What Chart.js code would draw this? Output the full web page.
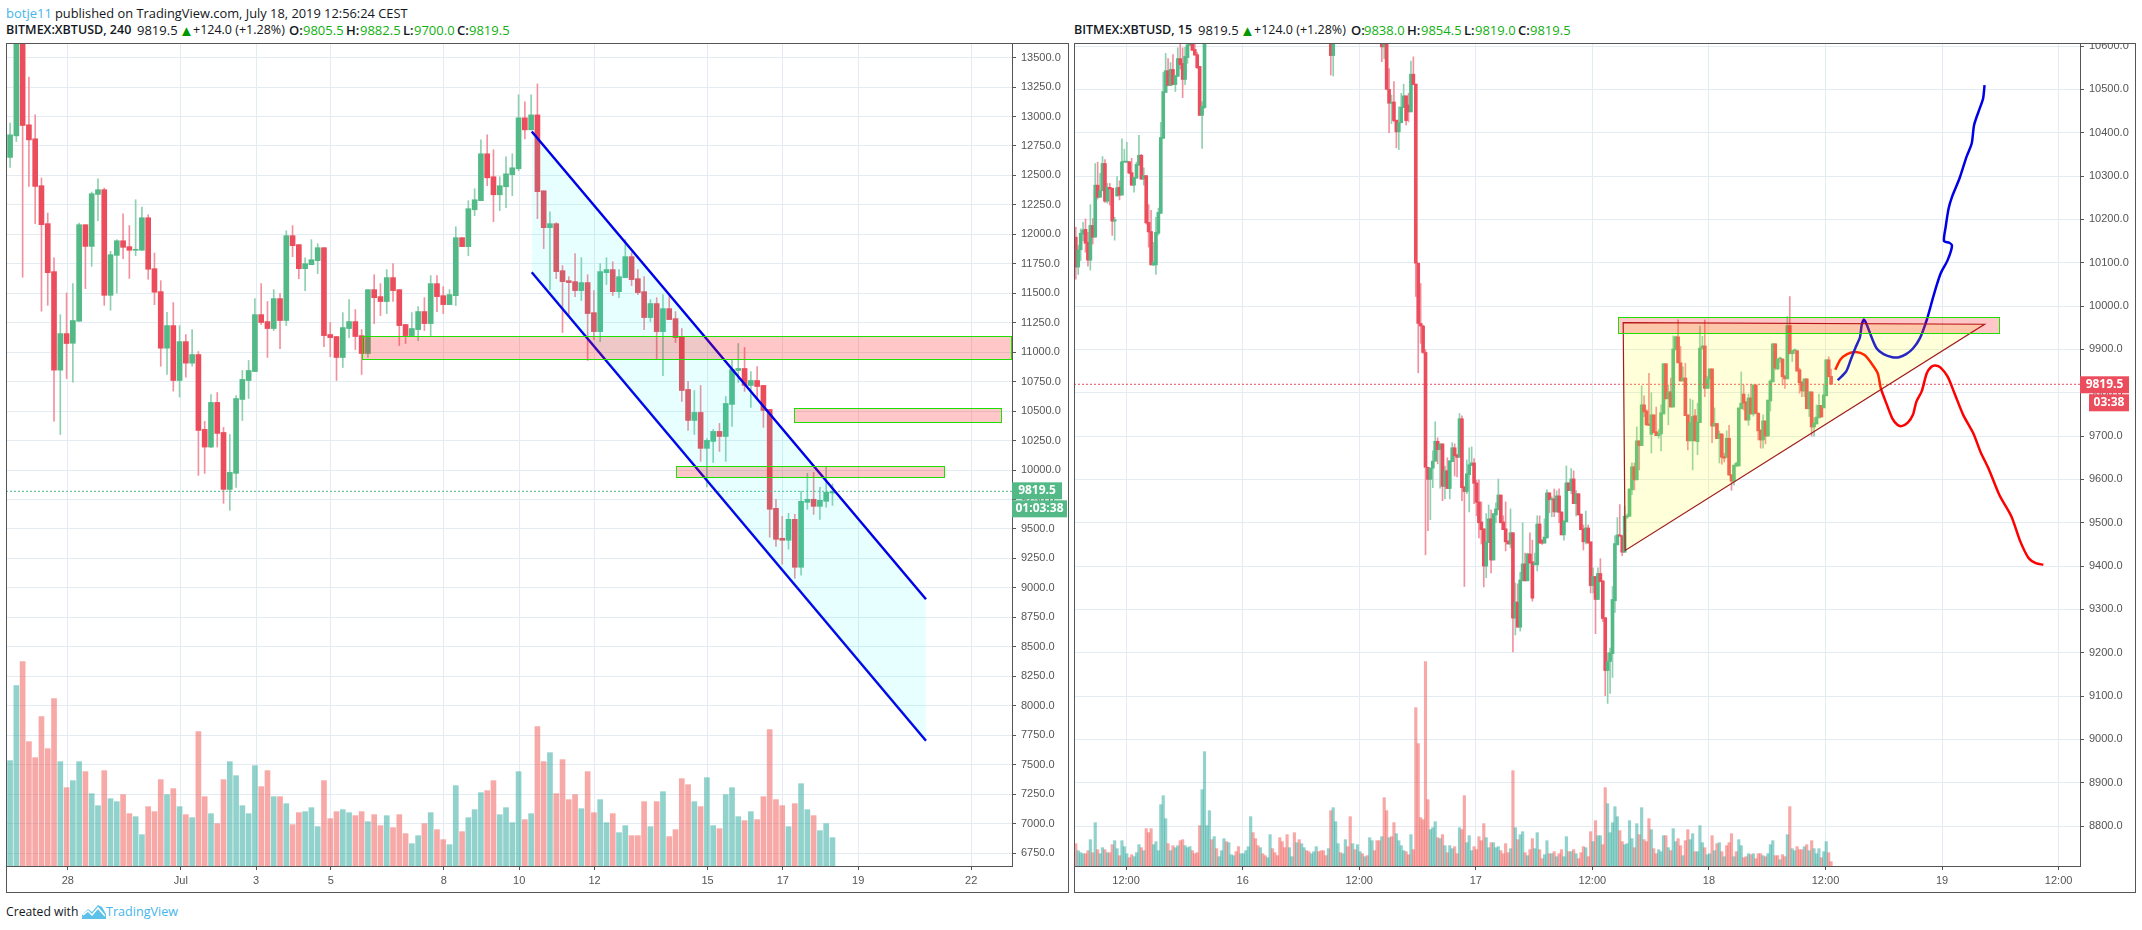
<!DOCTYPE html>
<html>
<head>
<meta charset="utf-8">
<title>BITMEX:XBTUSD</title>
<script src="https://cdn.jsdelivr.net/npm/chart.js@4/dist/chart.umd.min.js"></script>
<style>
    html, body { margin: 0; padding: 0; background: #fff; width: 2142px; height: 930px; overflow: hidden; }
    body { position: relative; font-family: "Open Sans", "Noto Sans", sans-serif; color: #131722; }
    canvas { position: absolute; top: 43px; }
    #leftChart { left: 6px; }
    #rightChart { left: 1074px; }
    .frame { position: absolute; top: 43px; height: 850px; border: 1px solid #555; box-sizing: border-box; pointer-events: none; }
    .line, .line span, .line b { white-space: nowrap; }
    .line { position: absolute; left: 0; width: 0; font-size: 13px; line-height: 16px; }
    .line span, .line b { position: absolute; top: 0; }
    .line b { font-weight: 600; }
    .line .val { color: #11b011; }
    .line .up { color: #009900; font-size: 15px; }
    .line .author, .line .brand { color: #45b5ea; }
</style>
</head>
<body>
<div class="line" style="top:5px"><span class="author" style="left:6px">botje11</span><span style="left:55px;font-size:12.85px">published on TradingView.com, July 18, 2019 12:56:24 CEST</span></div>
<div class="line" style="top:22px">
    <b style="left:6px;font-size:12.5px">BITMEX:XBTUSD, 240</b><span style="left:137px">9819.5</span><span class="up" style="left:179px">▲</span><span style="left:193px;font-size:12.5px">+124.0 (+1.28%)</span>
    <b style="left:289px">O:</b><span class="val" style="left:303px">9805.5</span><b style="left:346px">H:</b><span class="val" style="left:360px">9882.5</span><b style="left:403px">L:</b><span class="val" style="left:414px">9700.0</span><b style="left:457px">C:</b><span class="val" style="left:469px">9819.5</span>
</div>
<div class="line" style="top:22px">
    <b style="left:1074px;font-size:12.5px">BITMEX:XBTUSD, 15</b><span style="left:1198px">9819.5</span><span class="up" style="left:1240px">▲</span><span style="left:1254px;font-size:12.5px">+124.0 (+1.28%)</span>
    <b style="left:1351px">O:</b><span class="val" style="left:1364px">9838.0</span><b style="left:1407px">H:</b><span class="val" style="left:1421px">9854.5</span><b style="left:1464px">L:</b><span class="val" style="left:1475px">9819.0</span><b style="left:1518px">C:</b><span class="val" style="left:1530px">9819.5</span>
</div>
<canvas id="leftChart" width="1062" height="850"></canvas>
<canvas id="rightChart" width="1062" height="850"></canvas>
<div class="frame" style="left:6px;width:1063px"></div>
<div class="frame" style="left:1074px;width:1062px"></div>
<div class="line" style="top:904px"><span style="left:6px;font-size:12.2px">Created with</span>
    <svg width="24" height="16" viewBox="0 0 24 16" style="position:absolute;left:82px;top:0"><path d="M0 15 L0 11 L6 5 L10 8 L16 1 L20 3 L24 10 L24 15 Z" fill="#5cc1e8"/><path d="M1 11 L6 7 L10 11 L16 4 L23 12" fill="none" stroke="#fff" stroke-width="1.5"/></svg>
    <span class="brand" style="left:106px;font-size:12.6px">TradingView</span></div>

<script>
// Graphique de gauche : bougies 4 h, prix.
var leftOpens = [12653,12836,13880,12930,12811,12413,12091,11684,10848,11158,
    11076,11263,12082,11898,12339,12379,11483,11822,11946,11896,
    11865,11865,12141,11709,11514,11034,11226,10760,11090,10907,
    10980,10345,10195,10574,10319,9836,9972,10599,10760,10836,
    11319,11260,11201,11455,11269,11989,11913,11709,11743,11777,
    11887,11150,11133,10955,11201,11260,11141,10989,11531,11472,
    11430,11633,11531,11235,11141,11192,11345,11243,11582,11480,
    11404,11480,11972,11896,12209,12286,12684,12489,12336,12404,
    12506,12557,12989,12887,13014,12370,12057,12091,11692,11607,
    11599,11523,11591,11336,11175,11675,11701,11514,11633,11811,
    11624,11514,11294,11413,11175,11370,11285,11133,10684,10421,
    10489,10184,10243,10328,10285,10557,10845,10862,10718,10760,
    10718,10514,9675,9421,9404,9582,9175,9726,9752,9692,
    9735,9805.5];
var leftHighs = [12944,14000,13950,13334,13014,12478,12181,11800,11319,11503,
    11582,12096,12082,12359,12472,12393,11856,11955,12175,12074,
    12294,12232,12167,11842,11607,11339,11421,11226,11150,11192,
    11006,10413,10641,10658,10362,10302,10633,10845,10930,11455,
    11582,11430,11531,11497,12031,12074,11913,11802,11955,11921,
    11887,11252,11133,11336,11446,11362,11192,11531,11658,11582,
    11701,11752,11531,11235,11336,11387,11463,11650,11650,11557,
    11531,12065,11972,12286,12387,12802,12845,12718,12489,12658,
    12684,13184,13125,13184,13277,12370,12192,12099,11735,11641,
    11836,11802,11658,11523,11752,11802,11768,11701,11955,11845,
    11701,11641,11446,11463,11489,11472,11345,11201,10752,10675,
    10718,10268,10345,10396,10624,10938,11074,11040,10836,10879,
    10718,10514,9752,9607,9633,9624,9819,9972,9980,9853,
    10031,9882.5];
var leftLows = [12568,12788,11636,12407,12091,11348,11398,10415,10302,10777,
    10746,11263,11540,11729,12116,11398,11356,11503,11794,11627,
    11819,11865,11619,11404,10881,10811,10670,10619,10788,10881,
    9955,9972,10189,10195,9718,9658,9853,10421,10607,10836,
    11235,10955,11184,11031,11226,11811,11624,11523,11743,11667,
    11048,10963,10760,10870,11124,11023,10811,10955,11243,11311,
    11328,11430,11057,11074,11141,11099,11184,11141,11345,11328,
    11404,11396,11896,11819,12158,12286,12413,12108,12201,12226,
    12328,12540,12811,12887,12133,11879,11531,11624,11167,11302,
    11472,11438,10930,11107,11090,11574,11480,11463,11633,11565,
    11489,11192,11260,10946,10802,11277,11082,10582,10336,10302,
    10074,9856,10065,10158,10074,10370,10743,10667,10531,10599,
    10362,9430,9353,9201,9328,9082,9107,9667,9624,9582,
    9684,9700];
var leftCloses = [12845,13880,12924,12802,12407,12082,11675,10848,11158,11074,
    11269,12082,11898,12345,12379,11483,11828,11946,11890,11865,
    11870,12141,11704,11509,11034,11226,10760,11090,10907,10980,
    10336,10195,10574,10311,9836,9980,10607,10769,10845,11319,
    11252,11201,11455,11269,11989,11904,11709,11752,11785,11887,
    11141,11124,10955,11209,11260,11133,10989,11531,11463,11430,
    11633,11523,11226,11141,11201,11345,11243,11582,11472,11404,
    11489,11972,11896,12218,12294,12684,12480,12336,12413,12514,
    12565,12989,12887,13014,12362,12057,12091,11684,11599,11591,
    11523,11591,11328,11175,11684,11701,11514,11641,11811,11616,
    11506,11294,11413,11175,11370,11277,11124,10675,10421,10489,
    10184,10252,10328,10285,10565,10853,10862,10718,10760,10709,
    10506,9667,9412,9404,9582,9175,9735,9752,9692,9743,
    9811,9819.5];
// Volumes en unités relatives (pas d'échelle sur l'image).
var leftVolumes = [316,541,613,373,325,448,352,502,313,235,
    256,313,283,217,181,286,202,193,214,157,
    148,94,178,163,259,214,232,178,154,145,
    403,208,157,127,259,313,271,181,157,301,
    238,286,208,208,187,124,160,163,175,118,
    256,142,163,169,160,151,163,133,154,121,
    151,115,154,97,67,91,127,160,109,79,
    64,241,103,145,169,220,226,256,154,175,
    130,283,139,157,418,313,340,217,319,199,
    214,172,283,160,199,130,157,100,121,91,
    91,193,118,193,223,88,109,262,244,193,
    178,265,121,112,214,235,148,136,163,139,
    208,409,199,181,118,187,247,169,151,106,
    127,85];
var leftPriceTicks = [6750,7000,7250,7500,7750,8000,8250,8500,8750,9000,9250,9500,9750,10000,10250,10500,10750,11000,11250,11500,11750,12000,12250,12500,12750,13000,13250,13500];
var leftTimeTicks = [9.2,27.2,39.2,51.1,69.1,81.1,93.1,111.1,123.1,135.1,153.1];
var leftTimeLabels = ['28','Jul','3','5','8','10','12','15','17','19','22'];

// Dessins du graphique de gauche : canal bleu et zones.
var channelBars = [83.1,145.9];
var channelUpper = [12873,8904];
var channelLower = [11678,7703];
var leftZoneStart = [56.1,124.9,106.0];
var leftZoneEnd = [159.4,157.9,148.8];
var leftZoneTop = [11139,10528,10037];
var leftZoneBottom = [10944,10410,9944];

// Graphique de droite : bougies 15 min ; null = bougie hors du cadre.
function hidden(count) { return new Array(count).fill(null); }

var rightOpens = [10159,10090,10130,10166,10177,10147,10106,10186,10159,10279,
    10251,10266,10329,10242,10274,10272,10196,10254,10274,10256,
    10332,10332,10333,10308,10279,10295,10325,10348,10293,10301,
    10193,10172,10095,10095,10168,10214,10387,10493,10543,10509,
    10546,10511,10530,10571,10560,10523,10573,10602,10620,10592,
    10580,10553,10440,10458].concat(hidden(51), [10660,10578], hidden(19), [
    10640,10598,10640,10500,10468,10471,10429,10402,10423,10458,
    10485,10464,10448,10535,10512,10099,9960,9954,9893,9628,
    9600,9626,9642,9688,9669,9682,9584,9620,9579,9641,
    9673,9657,9651,9740,9583,9572,9611,9632,9638,9592,
    9548,9502,9486,9400,9454,9509,9414,9518,9530,9564,
    9502,9486,9458,9451,9477,9280,9317,9259,9366,9405,
    9366,9428,9410,9403,9403,9497,9460,9453,9465,9569,
    9553,9555,9525,9562,9525,9472,9502,9592,9574,9601,
    9544,9567,9520,9486,9456,9488,9456,9355,9376,9323,
    9383,9366,9281,9159,9180,9198,9320,9449,9472,9470,
    9432,9513,9515,9576,9629,9599,9689,9678,9772,9758,
    9728,9704,9749,9710,9701,9705,9751,9867,9786,9802,
    9767,9899,9929,9869,9827,9834,9749,9689,9689,9747,
    9687,9731,9903,9908,9810,9832,9855,9723,9729,9694,
    9705,9653,9651,9695,9611,9596,9631,9631,9763,9797,
    9779,9737,9788,9751,9818,9753,9714,9691,9735,9700,
    9781,9825,9913,9855,9878,9878,9839,9832,9955,9890,
    9897,9897,9853,9825,9804,9832,9763,9802,9721,9728,
    9742,9771,9765,9793,9876,9838]);
var rightHighs = [10182,10140,10178,10193,10201,10170,10234,10202,10329,10332,
    10306,10345,10338,10283,10283,10272,10205,10299,10289,10386,
    10362,10378,10333,10341,10297,10332,10394,10350,10319,10301,
    10234,10221,10147,10205,10226,10424,10539,10583,10571,10562,
    10580,10532,10596,10606,10596,10597,10616,10640,10640,10615,
    10585,10553,10472,10690].concat(hidden(51), [10700,10700], hidden(19), [
    10680,10680,10680,10548,10487,10518,10429,10460,10491,10512,
    10485,10491,10565,10575,10512,10099,10052,9956,9900,9628,
    9626,9666,9733,9696,9682,9682,9631,9650,9643,9685,
    9682,9657,9752,9747,9583,9645,9673,9675,9648,9599,
    9599,9548,9486,9521,9541,9530,9521,9546,9601,9564,
    9516,9548,9458,9532,9477,9361,9359,9386,9500,9430,
    9430,9477,9460,9430,9516,9516,9460,9509,9576,9569,
    9560,9578,9574,9578,9525,9504,9631,9592,9625,9620,
    9574,9567,9520,9495,9527,9495,9456,9396,9376,9396,
    9417,9366,9281,9200,9211,9353,9470,9512,9542,9470,
    9538,9520,9578,9638,9638,9721,9689,9816,9793,9761,
    9845,9800,9749,9767,9715,9772,9867,9867,9818,9834,
    9931,9931,9968,9907,9860,9868,9749,9786,9783,9761,
    9776,9954,9930,9968,9838,9855,9855,9765,9729,9712,
    9705,9660,9712,9725,9611,9633,9640,9765,9848,9818,
    9779,9797,9819,9818,9818,9753,9714,9749,9735,9783,
    9830,9913,9913,9878,9882,9878,9839,9976,10022,9897,
    9901,9897,9857,9825,9832,9832,9802,9802,9742,9772,
    9797,9771,9818,9876,9883,9854.5]);
var rightLows = [10062,10073,10105,10151,10124,10092,10083,10143,10159,10247,
    10251,10266,10239,10237,10233,10163,10152,10254,10245,10256,
    10332,10331,10305,10278,10263,10295,10325,10292,10279,10189,
    10136,10095,10093,10073,10164,10214,10387,10493,10509,10508,
    10511,10495,10530,10547,10481,10511,10560,10602,10590,10579,
    10548,10440,10364,10456].concat(hidden(51), [10533,10531], hidden(19), [
    10564,10571,10500,10400,10421,10425,10365,10361,10423,10458,
    10418,10425,10448,10511,10022,9846,9914,9891,9426,9482,
    9507,9581,9642,9636,9580,9551,9555,9579,9555,9641,
    9608,9606,9651,9551,9353,9567,9525,9632,9544,9516,
    9465,9451,9352,9373,9454,9384,9414,9500,9530,9500,
    9484,9435,9451,9442,9202,9241,9259,9250,9366,9366,
    9366,9407,9319,9403,9389,9453,9450,9453,9465,9523,
    9514,9514,9525,9500,9472,9460,9502,9574,9567,9544,
    9516,9518,9484,9437,9451,9453,9338,9338,9244,9323,
    9364,9272,9101,9083,9106,9143,9293,9449,9469,9424,
    9432,9510,9515,9565,9576,9599,9622,9678,9745,9724,
    9724,9661,9708,9701,9695,9666,9751,9786,9726,9767,
    9767,9899,9869,9827,9827,9747,9668,9689,9622,9689,
    9657,9731,9900,9791,9810,9810,9685,9723,9694,9638,
    9635,9640,9651,9610,9575,9587,9629,9631,9763,9760,
    9737,9725,9751,9746,9751,9691,9672,9672,9682,9700,
    9758,9825,9853,9853,9870,9818,9810,9832,9890,9872,
    9890,9850,9799,9791,9791,9763,9745,9700,9700,9728,
    9742,9744,9765,9793,9837,9819]);
var rightCloses = [10090,10130,10168,10176,10145,10106,10186,10159,10279,10251,
    10266,10329,10242,10274,10270,10196,10199,10273,10256,10333,
    10334,10334,10307,10279,10297,10327,10348,10293,10301,10192,
    10171,10095,10101,10170,10216,10389,10495,10543,10509,10546,
    10511,10532,10571,10557,10523,10576,10603,10620,10590,10579,
    10550,10440,10461,10660].concat(hidden(51), [10578,10660], hidden(19), [
    10598,10640,10500,10468,10469,10428,10402,10423,10459,10485,
    10428,10448,10535,10511,10099,9960,9954,9893,9628,9600,
    9626,9642,9688,9669,9682,9584,9620,9579,9643,9673,
    9655,9651,9740,9581,9572,9613,9634,9638,9591,9547,
    9500,9484,9400,9456,9509,9414,9521,9532,9564,9500,
    9484,9456,9451,9477,9280,9317,9259,9368,9405,9366,
    9428,9407,9326,9407,9497,9453,9453,9467,9569,9553,
    9555,9525,9562,9524,9472,9504,9592,9574,9601,9544,
    9567,9518,9484,9456,9488,9453,9355,9376,9323,9383,
    9364,9279,9159,9180,9200,9323,9452,9472,9469,9432,
    9515,9516,9578,9629,9599,9689,9678,9772,9756,9726,
    9725,9749,9708,9701,9705,9754,9867,9786,9802,9767,
    9901,9929,9869,9827,9834,9747,9689,9731,9745,9689,
    9733,9903,9908,9810,9832,9855,9723,9729,9694,9705,
    9651,9649,9695,9610,9596,9633,9637,9765,9776,9776,
    9737,9788,9751,9818,9753,9712,9691,9735,9700,9783,
    9827,9913,9857,9878,9880,9837,9832,9955,9890,9897,
    9899,9850,9823,9804,9832,9763,9802,9721,9730,9744,
    9771,9744,9795,9876,9837,9819.5]);
var rightVolumes = [67,46,40,37,37,46,79,40,130,49,
    37,55,49,40,40,64,76,52,31,76,
    58,37,25,34,28,40,64,55,46,112,
    100,112,64,73,46,184,211,142,67,46,
    61,55,61,76,79,61,55,58,46,37,
    40,121,229,343,121,166,79,88,52,28,
    46,82,73,70,34,31,43,58,37,37,
    46,58,148,100,82,61,55,37,31,25,
    94,52,40,31,85,73,55,94,55,28,
    100,70,79,67,55,46,43,37,43,58,
    43,46,46,31,52,166,175,133,67,40,
    37,79,58,148,67,49,64,43,37,28,
    31,85,76,46,76,76,88,205,166,85,
    88,130,97,76,61,46,43,34,94,49,
    475,367,145,139,613,199,109,115,133,85,
    82,94,61,40,61,52,58,37,115,109,
    211,70,91,46,58,49,88,76,127,85,
    55,70,70,55,58,46,37,67,40,52,
    286,115,79,94,103,40,31,49,82,52,
    100,49,22,34,76,37,37,43,28,37,
    49,28,88,43,43,49,37,22,40,58,
    55,28,103,73,136,91,91,64,235,187,
    100,130,178,148,106,73,64,67,136,82,
    55,127,94,175,79,73,142,109,52,37,
    49,43,91,91,55,46,112,73,82,61,
    31,76,109,79,97,43,43,121,70,55,
    34,37,91,46,67,70,43,28,61,70,
    97,28,43,79,61,25,28,37,34,37,
    22,37,37,31,28,37,64,76,31,31,
    19,34,28,94,178,52,46,58,49,49,
    58,64,46,76,52,37,52,25,43,73,40,13];
// Couleur de chaque volume : G = hausse, R = baisse.
var rightVolumeSides = ('RGGGRRGRGR GGRGRRGGRG GGRRGGGRGR RRGGGGGGRG RGGRRGGGRR ' +
    'RRGGGGRGRG GGRGGGRRGG GGGRRRGRRG GRRRRRRRGG RGRGGRRGGG ' +
    'RRRRGRGGGR GGRRGRGGRG RGGRRRGRRG RRGGGGRRGR RRRRRRGGGR ' +
    'GRGRGGRRGR RGGGRRRRRG GRGGGRRRRG RGRGGRGRRG GRRGGRGRGR ' +
    'RGGRGRGRRR GRRGRGGRRG GGGGRRGGGG RGRGRRRGRR GGGRGRGGRR ' +
    'GRRGGRGGGR GGRGRGRGRR RGRGGRRGRG RRRGRGGGRR GRRGRGGRRR ' +
    'GRGRGGGRGGRR').replace(/ /g, '').split('');
var rightPriceTicks = [8800,8900,9000,9100,9200,9300,9400,9500,9600,9700,9800,9900,10000,10100,10200,10300,10400,10500,10600];
var rightTimeTicks = [20.7,68.7,116.7,164.7,212.7,260.7,308.7,356.7,404.7];
var rightTimeLabels = ['12:00','16','12:00','17','12:00','18','12:00','19','12:00'];

// Dessins du graphique de droite : zone, triangle et deux tracés à main levée.
var rightZoneStart = [223.3];
var rightZoneEnd = [380.3];
var rightZoneTop = [9974];
var rightZoneBottom = [9939];
var triangleBars = [225.4,374.2,226.2];
var trianglePrices = [9962,9958,9436];
var blueBars = [313.7,317.2,319.1,321.2,322.9,323.6,324.5,325.8,327.6,329.8,332.6,336.2,339.0,341.9,344.7,347.6,350.4,353.3,356.1,359.0,360.8,359.7,357.5,358.2,359.4,360.8,363.9,366.8,368.9,369.9,372.2,373.6,374.2];
var bluePrices = [9829,9849,9876,9906,9928,9956,9969,9956,9929,9902,9889,9882,9882,9889,9902,9926,9968,10026,10075,10106,10139,10146,10150,10183,10225,10252,10295,10345,10375,10418,10456,10479,10510];
var redBars = [312.7,314.8,317.6,321.2,324.8,327.6,330.2,331.5,334.0,336.2,338.3,340.0,342.6,344.7,346.1,348.3,350.4,352.3,354.0,356.1,359.0,361.8,365.4,369.6,372.5,376.0,380.3,385.3,388.9,392.4,395.3,398.4];
var redPrices = [9853,9876,9889,9894,9887,9868,9845,9810,9772,9741,9726,9723,9731,9749,9779,9803,9845,9860,9863,9858,9837,9799,9749,9706,9664,9623,9564,9514,9457,9418,9407,9403];

var lastPrice = 9819.5;
var tickFont = { family: '"Liberation Sans", sans-serif', size: 11 };

// Associe deux listes en points {x, y}.
function toPoints(bars, prices) {
    return bars.map(function (bar, i) { return { x: bar, y: prices[i] }; });
}

// Trait simple (canal, tracés, dernier prix).
function lineDataset(bars, prices, color, width, extra) {
    return Object.assign({
        type: 'line',
        data: toPoints(bars, prices),
        borderColor: color,
        borderWidth: width,
        pointRadius: 0,
        fill: false,
        order: 0
    }, extra || {});
}

// Construit les jeux de données volumes, mèches et corps.
function candleDatasets(opens, highs, lows, closes, volumes, sides, look) {
    var volumeData = [], volumeColors = [];
    var wickData = [], wickColors = [];
    var bodyData = [], bodyColors = [];

    volumes.forEach(function (volume, i) {
        var rising = sides ? sides[i] === 'G' : closes[i] >= opens[i];
        volumeData.push({ x: i, y: volume });
        volumeColors.push(rising ? 'rgba(38,166,154,0.5)' : 'rgba(239,83,80,0.5)');

        if (opens[i] === null) {
            return;
        }
        wickData.push({ x: i, y: [lows[i], highs[i]] });
        wickColors.push(closes[i] >= opens[i] ? '#8fd0b0' : '#f2919e');
        bodyData.push({ x: i, y: [Math.min(opens[i], closes[i]), Math.max(opens[i], closes[i])] });
        bodyColors.push(closes[i] >= opens[i] ? '#53b987' : '#eb4d5c');
    });

    return [
        { data: volumeData, yAxisID: 'yVolume', backgroundColor: volumeColors, barThickness: look.volumeWidth, grouped: false, order: 5 },
        { data: wickData, backgroundColor: wickColors, barThickness: 1, grouped: false, order: 4 },
        { data: bodyData, backgroundColor: bodyColors, barThickness: look.bodyWidth, grouped: false, minBarLength: 1, order: 3 }
    ];
}

// Plugin : zones, triangle et étiquettes de prix, placés via les échelles.
function overlayPlugin(zones, triangle, tags) {
    return {
        id: 'overlay',
        afterDatasetsDraw: function (chart) {
            var ctx = chart.ctx;
            var x = chart.scales.x;
            var y = chart.scales.y;
            var area = chart.chartArea;

            ctx.save();
            ctx.beginPath();
            ctx.rect(area.left, area.top, area.right - area.left, area.bottom - area.top);
            ctx.clip();

            if (triangle) {
                ctx.beginPath();
                triangle.bars.forEach(function (bar, i) {
                    ctx.lineTo(x.getPixelForValue(bar), y.getPixelForValue(triangle.prices[i]));
                });
                ctx.closePath();
                ctx.fillStyle = 'rgba(255,255,0,0.15)';
                ctx.fill();
                ctx.strokeStyle = '#a11d1d';
                ctx.lineWidth = 1.2;
                ctx.stroke();
            }

            zones.start.forEach(function (start, i) {
                var left = Math.round(x.getPixelForValue(start)) + 0.5;
                var right = Math.round(x.getPixelForValue(zones.end[i])) + 0.5;
                var top = Math.round(y.getPixelForValue(zones.top[i])) + 0.5;
                var bottom = Math.round(y.getPixelForValue(zones.bottom[i])) + 0.5;
                ctx.fillStyle = 'rgba(255,0,0,0.22)';
                ctx.fillRect(left, top, right - left, bottom - top);
                ctx.strokeStyle = '#1ee000';
                ctx.lineWidth = 1;
                ctx.strokeRect(left, top, right - left, bottom - top);
            });
            ctx.restore();
        },
        afterDraw: function (chart) {
            var ctx = chart.ctx;
            var center = chart.scales.y.getPixelForValue(lastPrice);
            var right = chart.chartArea.right;

            ctx.save();
            ctx.textAlign = 'center';
            ctx.textBaseline = 'middle';
            tags.forEach(function (tag) {
                ctx.fillStyle = tag.color;
                ctx.fillRect(right + tag.left, center + tag.top, tag.width, tag.height);
                ctx.fillStyle = '#fff';
                ctx.font = 'bold 12px "Open Sans", sans-serif';
                ctx.fillText(tag.text, right + tag.left + tag.width / 2, center + tag.top + tag.height / 2);
            });
            ctx.restore();
        }
    };
}

// Crée un panneau complet.
function drawPanel(canvasId, panel) {
    new Chart(document.getElementById(canvasId), {
        type: 'bar',
        data: { datasets: panel.datasets },
        plugins: [overlayPlugin(panel.zones, panel.triangle, panel.tags)],
        options: {
            responsive: false,
            animation: false,
            layout: { padding: 0, autoPadding: false },
            plugins: { legend: { display: false }, tooltip: { enabled: false } },
            scales: {
                x: {
                    type: 'linear',
                    offset: false,
                    min: panel.xMin,
                    max: panel.xMax,
                    grid: { color: '#e3ecf2', tickColor: '#555', tickLength: 4, offset: false },
                    border: { color: '#555' },
                    ticks: {
                        autoSkip: false,
                        maxRotation: 0,
                        padding: 4,
                        color: '#555',
                        font: tickFont,
                        callback: function (value, index) { return panel.timeLabels[index]; }
                    },
                    afterBuildTicks: function (scale) {
                        scale.ticks = panel.timeTicks.map(function (value) { return { value: value }; });
                    },
                    afterFit: function (scale) { scale.height = 27; }
                },
                y: {
                    position: 'right',
                    min: panel.yMin,
                    max: panel.yMax,
                    grid: { color: '#e3ecf2', tickColor: '#555', tickLength: 4 },
                    border: { color: '#555' },
                    ticks: {
                        autoSkip: false,
                        padding: 5,
                        color: '#555',
                        font: tickFont,
                        callback: function (value) { return Number(value).toFixed(1); }
                    },
                    afterBuildTicks: function (scale) {
                        scale.ticks = panel.priceTicks.map(function (value) { return { value: value }; });
                    },
                    afterFit: function (scale) {
                        scale.width = panel.axisWidth;
                        scale.paddingTop = 0;
                        scale.paddingBottom = 0;
                    }
                },
                yVolume: { display: false, min: 0, max: 2469 }
            }
        }
    });
}

var leftXMin = -0.65, leftXMax = 159.6;
drawPanel('leftChart', {
    xMin: leftXMin,
    xMax: leftXMax,
    yMin: 6640,
    yMax: 13624,
    axisWidth: 56,
    priceTicks: leftPriceTicks,
    timeTicks: leftTimeTicks,
    timeLabels: leftTimeLabels,
    zones: { start: leftZoneStart, end: leftZoneEnd, top: leftZoneTop, bottom: leftZoneBottom },
    triangle: null,
    tags: [
        { text: '9819.5', color: '#53b987', left: 0, top: -9, width: 50, height: 17 },
        { text: '01:03:38', color: '#53b987', left: 0, top: 9, width: 55, height: 17 }
    ],
    datasets: candleDatasets(leftOpens, leftHighs, leftLows, leftCloses, leftVolumes, null, { volumeWidth: 5, bodyWidth: 5 }).concat([
        lineDataset([leftXMin, leftXMax], [lastPrice, lastPrice], '#53b987', 1, { borderDash: [2, 2], order: 2 }),
        lineDataset(channelBars, channelUpper, '#0000e6', 2.5, { fill: '+1', backgroundColor: 'rgba(0,255,255,0.09)' }),
        lineDataset(channelBars, channelLower, '#0000e6', 2.5)
    ])
});

var rightXMin = -0.74, rightXMax = 413.5;
drawPanel('rightChart', {
    xMin: rightXMin,
    xMax: rightXMax,
    yMin: 8708,
    yMax: 10607,
    axisWidth: 56,
    priceTicks: rightPriceTicks,
    timeTicks: rightTimeTicks,
    timeLabels: rightTimeLabels,
    zones: { start: rightZoneStart, end: rightZoneEnd, top: rightZoneTop, bottom: rightZoneBottom },
    triangle: { bars: triangleBars, prices: trianglePrices },
    tags: [
        { text: '9819.5', color: '#eb4d5c', left: 0, top: -8, width: 49, height: 17 },
        { text: '03:38', color: '#eb4d5c', left: 9, top: 10, width: 40, height: 17 }
    ],
    datasets: candleDatasets(rightOpens, rightHighs, rightLows, rightCloses, rightVolumes, rightVolumeSides, { volumeWidth: 2.5, bodyWidth: 3 }).concat([
        lineDataset([rightXMin, rightXMax], [lastPrice, lastPrice], '#eb4d5c', 1, { borderDash: [2, 2], order: 2 }),
        lineDataset(blueBars, bluePrices, '#0000e6', 2.5, { tension: 0.25 }),
        lineDataset(redBars, redPrices, '#ff0000', 2.5, { tension: 0.25 })
    ])
});
</script>
</body>
</html>
